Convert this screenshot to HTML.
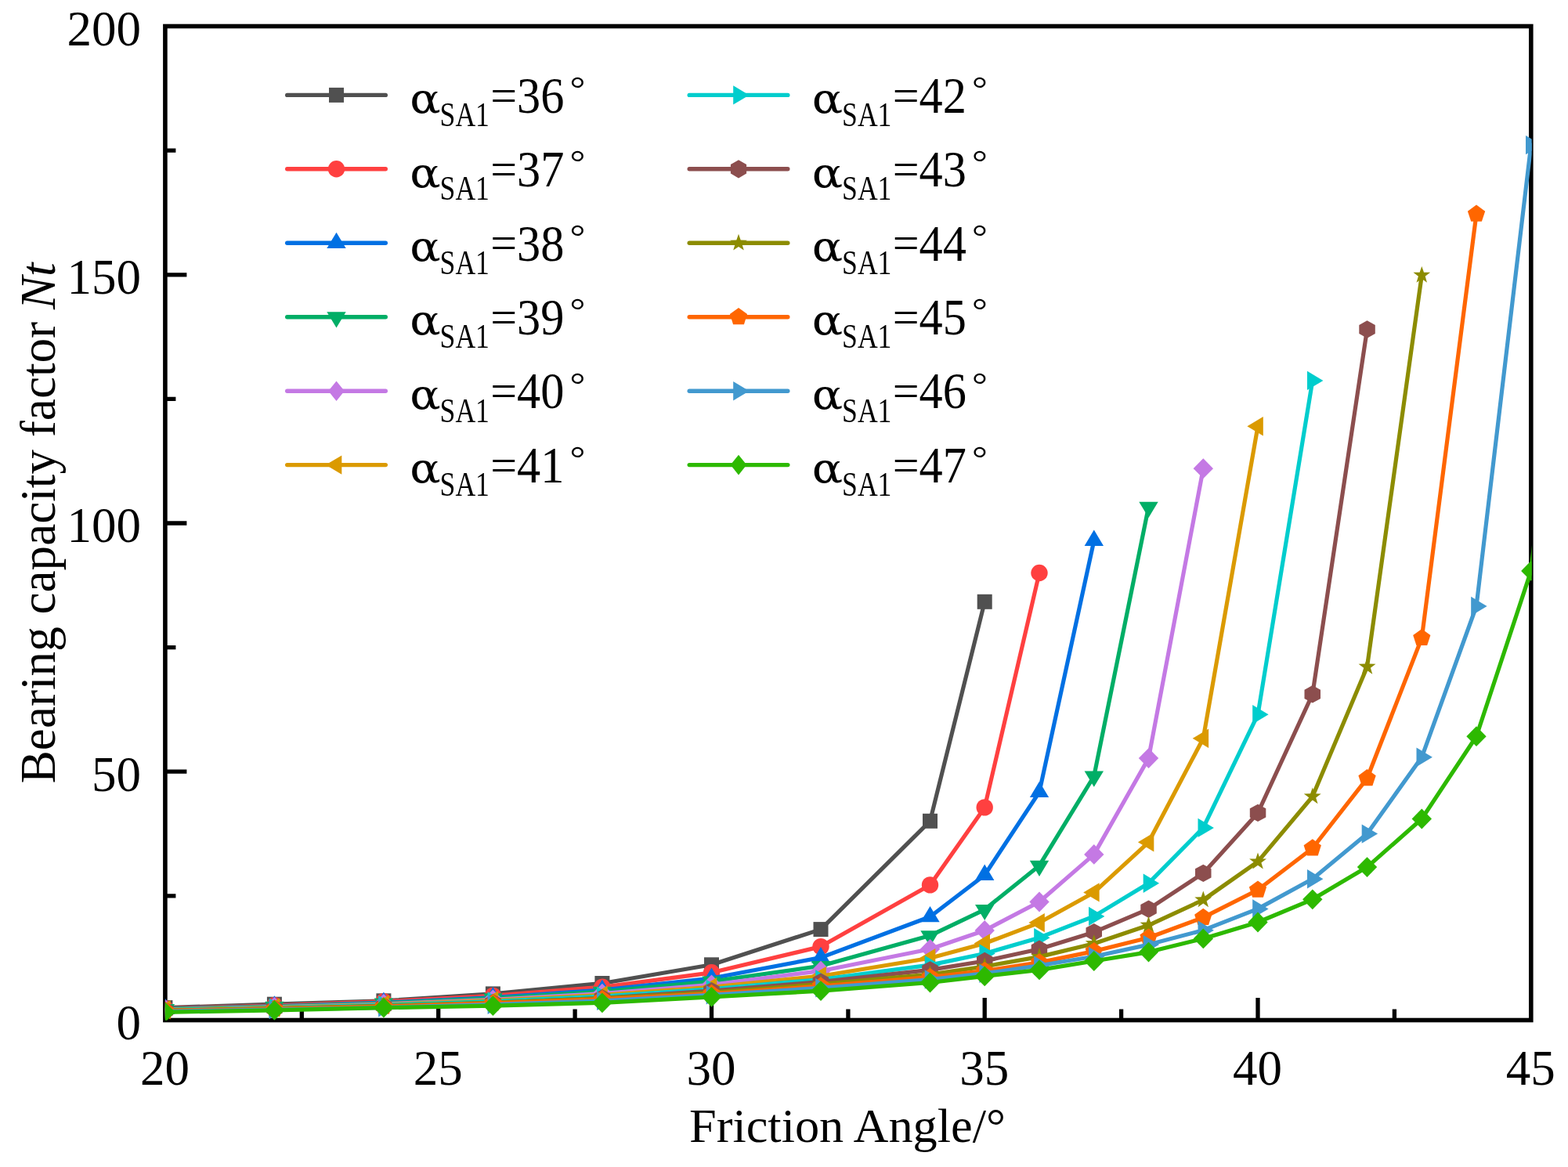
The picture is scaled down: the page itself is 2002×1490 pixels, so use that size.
<!DOCTYPE html>
<html><head><meta charset="utf-8"><title>Bearing capacity factor Nt vs Friction Angle</title>
<style>html,body{margin:0;padding:0;background:#fff;overflow:hidden;}svg{display:block;}
text{font-family:"Liberation Serif",serif;fill:#000;}</style></head>
<body><svg width="2002" height="1490" viewBox="0 0 2002 1490">
<rect width="2002" height="1490" fill="#fff"/>
<defs><clipPath id="pa"><rect x="210.9" y="33.5" width="1744.8" height="1269.3"/></clipPath></defs>

<path d="M210.9 1143.9H224.4 M210.9 985.2H238.4 M210.9 826.6H224.4 M210.9 668.0H238.4 M210.9 509.4H224.4 M210.9 350.8H238.4 M210.9 192.1H224.4 M385.3 1302.5V1288.5 M559.7 1302.5V1274.0 M734.1 1302.5V1288.5 M908.5 1302.5V1274.0 M1082.9 1302.5V1288.5 M1257.2 1302.5V1274.0 M1431.6 1302.5V1288.5 M1606.0 1302.5V1274.0 M1780.4 1302.5V1288.5" stroke="#000" stroke-width="5.3" fill="none"/>
<rect x="210.9" y="33.5" width="1743.9" height="1269.0" fill="none" stroke="#000" stroke-width="5.6"/>
<g clip-path="url(#pa)">
<polyline points="210.9,1286.6 350.4,1282.2 489.9,1277.8 629.4,1268.9 768.9,1255.5 908.5,1231.8 1048.0,1186.6 1187.5,1048.3 1257.2,768.3" fill="none" stroke="#505050" stroke-width="5.2" stroke-linejoin="round" stroke-linecap="round"/>
<rect x="201.4" y="1277.1" width="19" height="19" fill="#505050"/><rect x="340.9" y="1272.7" width="19" height="19" fill="#505050"/><rect x="480.4" y="1268.3" width="19" height="19" fill="#505050"/><rect x="619.9" y="1259.4" width="19" height="19" fill="#505050"/><rect x="759.4" y="1246.0" width="19" height="19" fill="#505050"/><rect x="899.0" y="1222.3" width="19" height="19" fill="#505050"/><rect x="1038.5" y="1177.1" width="19" height="19" fill="#505050"/><rect x="1178.0" y="1038.8" width="19" height="19" fill="#505050"/><rect x="1247.7" y="758.8" width="19" height="19" fill="#505050"/>
<polyline points="210.9,1287.6 350.4,1283.8 489.9,1278.7 629.4,1271.4 768.9,1260.3 908.5,1241.8 1048.0,1208.6 1187.5,1129.9 1257.2,1030.9 1327.0,731.5" fill="none" stroke="#ff4040" stroke-width="5.2" stroke-linejoin="round" stroke-linecap="round"/>
<circle cx="210.9" cy="1287.6" r="10.7" fill="#ff4040"/><circle cx="350.4" cy="1283.8" r="10.7" fill="#ff4040"/><circle cx="489.9" cy="1278.7" r="10.7" fill="#ff4040"/><circle cx="629.4" cy="1271.4" r="10.7" fill="#ff4040"/><circle cx="768.9" cy="1260.3" r="10.7" fill="#ff4040"/><circle cx="908.5" cy="1241.8" r="10.7" fill="#ff4040"/><circle cx="1048.0" cy="1208.6" r="10.7" fill="#ff4040"/><circle cx="1187.5" cy="1129.9" r="10.7" fill="#ff4040"/><circle cx="1257.2" cy="1030.9" r="10.7" fill="#ff4040"/><circle cx="1327.0" cy="731.5" r="10.7" fill="#ff4040"/>
<polyline points="210.9,1288.2 350.4,1284.8 489.9,1280.1 629.4,1273.6 768.9,1264.0 908.5,1249.0 1048.0,1222.6 1187.5,1170.5 1257.2,1117.2 1327.0,1011.3 1396.8,690.2" fill="none" stroke="#0070e3" stroke-width="5.2" stroke-linejoin="round" stroke-linecap="round"/>
<polygon points="210.9,1274.6 223.1,1295.0 198.7,1295.0" fill="#0070e3"/><polygon points="350.4,1271.2 362.6,1291.6 338.2,1291.6" fill="#0070e3"/><polygon points="489.9,1266.5 502.1,1286.9 477.7,1286.9" fill="#0070e3"/><polygon points="629.4,1260.0 641.6,1280.4 617.2,1280.4" fill="#0070e3"/><polygon points="768.9,1250.4 781.1,1270.8 756.7,1270.8" fill="#0070e3"/><polygon points="908.5,1235.4 920.7,1255.8 896.3,1255.8" fill="#0070e3"/><polygon points="1048.0,1209.0 1060.2,1229.4 1035.8,1229.4" fill="#0070e3"/><polygon points="1187.5,1156.9 1199.7,1177.3 1175.3,1177.3" fill="#0070e3"/><polygon points="1257.2,1103.6 1269.4,1124.0 1245.0,1124.0" fill="#0070e3"/><polygon points="1327.0,997.7 1339.2,1018.1 1314.8,1018.1" fill="#0070e3"/><polygon points="1396.8,676.6 1409.0,697.0 1384.6,697.0" fill="#0070e3"/>
<polyline points="210.9,1288.4 350.4,1285.1 489.9,1280.8 629.4,1274.7 768.9,1266.1 908.5,1253.0 1048.0,1233.3 1187.5,1194.6 1257.2,1161.3 1327.0,1105.2 1396.8,991.0 1466.5,647.1" fill="none" stroke="#00ae66" stroke-width="5.2" stroke-linejoin="round" stroke-linecap="round"/>
<polygon points="210.9,1302.2 223.1,1282.0 198.7,1282.0" fill="#00ae66"/><polygon points="350.4,1298.9 362.6,1278.7 338.2,1278.7" fill="#00ae66"/><polygon points="489.9,1294.6 502.1,1274.4 477.7,1274.4" fill="#00ae66"/><polygon points="629.4,1288.5 641.6,1268.3 617.2,1268.3" fill="#00ae66"/><polygon points="768.9,1279.9 781.1,1259.7 756.7,1259.7" fill="#00ae66"/><polygon points="908.5,1266.8 920.7,1246.6 896.3,1246.6" fill="#00ae66"/><polygon points="1048.0,1247.1 1060.2,1226.9 1035.8,1226.9" fill="#00ae66"/><polygon points="1187.5,1208.4 1199.7,1188.2 1175.3,1188.2" fill="#00ae66"/><polygon points="1257.2,1175.1 1269.4,1154.9 1245.0,1154.9" fill="#00ae66"/><polygon points="1327.0,1119.0 1339.2,1098.8 1314.8,1098.8" fill="#00ae66"/><polygon points="1396.8,1004.8 1409.0,984.6 1384.6,984.6" fill="#00ae66"/><polygon points="1466.5,660.9 1478.7,640.7 1454.3,640.7" fill="#00ae66"/>
<polyline points="210.9,1289.0 350.4,1285.9 489.9,1281.8 629.4,1276.3 768.9,1268.6 908.5,1257.3 1048.0,1239.7 1187.5,1211.8 1257.2,1188.0 1327.0,1151.5 1396.8,1090.9 1466.5,968.1 1536.3,598.2" fill="none" stroke="#c479e4" stroke-width="5.2" stroke-linejoin="round" stroke-linecap="round"/>
<polygon points="210.9,1276.1 223.6,1289.0 210.9,1301.9 198.2,1289.0" fill="#c479e4"/><polygon points="350.4,1273.0 363.1,1285.9 350.4,1298.8 337.7,1285.9" fill="#c479e4"/><polygon points="489.9,1268.9 502.6,1281.8 489.9,1294.7 477.2,1281.8" fill="#c479e4"/><polygon points="629.4,1263.4 642.1,1276.3 629.4,1289.2 616.7,1276.3" fill="#c479e4"/><polygon points="768.9,1255.7 781.6,1268.6 768.9,1281.5 756.2,1268.6" fill="#c479e4"/><polygon points="908.5,1244.4 921.2,1257.3 908.5,1270.2 895.8,1257.3" fill="#c479e4"/><polygon points="1048.0,1226.8 1060.7,1239.7 1048.0,1252.6 1035.3,1239.7" fill="#c479e4"/><polygon points="1187.5,1198.9 1200.2,1211.8 1187.5,1224.7 1174.8,1211.8" fill="#c479e4"/><polygon points="1257.2,1175.1 1269.9,1188.0 1257.2,1200.9 1244.5,1188.0" fill="#c479e4"/><polygon points="1327.0,1138.6 1339.7,1151.5 1327.0,1164.4 1314.3,1151.5" fill="#c479e4"/><polygon points="1396.8,1078.0 1409.5,1090.9 1396.8,1103.8 1384.1,1090.9" fill="#c479e4"/><polygon points="1466.5,955.2 1479.2,968.1 1466.5,981.0 1453.8,968.1" fill="#c479e4"/><polygon points="1536.3,585.3 1549.0,598.2 1536.3,611.1 1523.6,598.2" fill="#c479e4"/>
<polyline points="210.9,1289.3 350.4,1286.4 489.9,1282.6 629.4,1277.4 768.9,1270.4 908.5,1260.3 1048.0,1246.2 1187.5,1223.2 1257.2,1204.5 1327.0,1178.1 1396.8,1139.4 1466.5,1075.3 1536.3,942.7 1606.0,544.3" fill="none" stroke="#db9a00" stroke-width="5.2" stroke-linejoin="round" stroke-linecap="round"/>
<polygon points="197.3,1289.3 217.7,1277.1 217.7,1301.5" fill="#db9a00"/><polygon points="336.8,1286.4 357.2,1274.2 357.2,1298.6" fill="#db9a00"/><polygon points="476.3,1282.6 496.7,1270.4 496.7,1294.8" fill="#db9a00"/><polygon points="615.8,1277.4 636.2,1265.2 636.2,1289.6" fill="#db9a00"/><polygon points="755.3,1270.4 775.7,1258.2 775.7,1282.6" fill="#db9a00"/><polygon points="894.9,1260.3 915.3,1248.1 915.3,1272.5" fill="#db9a00"/><polygon points="1034.4,1246.2 1054.8,1234.0 1054.8,1258.4" fill="#db9a00"/><polygon points="1173.9,1223.2 1194.3,1211.0 1194.3,1235.4" fill="#db9a00"/><polygon points="1243.6,1204.5 1264.0,1192.3 1264.0,1216.7" fill="#db9a00"/><polygon points="1313.4,1178.1 1333.8,1165.9 1333.8,1190.3" fill="#db9a00"/><polygon points="1383.2,1139.4 1403.6,1127.2 1403.6,1151.6" fill="#db9a00"/><polygon points="1452.9,1075.3 1473.3,1063.1 1473.3,1087.5" fill="#db9a00"/><polygon points="1522.7,942.7 1543.1,930.5 1543.1,954.9" fill="#db9a00"/><polygon points="1592.4,544.3 1612.8,532.1 1612.8,556.5" fill="#db9a00"/>
<polyline points="210.9,1289.6 350.4,1286.8 489.9,1283.2 629.4,1278.5 768.9,1272.0 908.5,1262.9 1048.0,1250.5 1187.5,1232.1 1257.2,1217.5 1327.0,1197.2 1396.8,1169.9 1466.5,1127.7 1536.3,1056.9 1606.0,912.3 1675.8,485.9" fill="none" stroke="#00cdcd" stroke-width="5.2" stroke-linejoin="round" stroke-linecap="round"/>
<polygon points="224.5,1289.6 204.1,1277.4 204.1,1301.8" fill="#00cdcd"/><polygon points="364.0,1286.8 343.6,1274.6 343.6,1299.0" fill="#00cdcd"/><polygon points="503.5,1283.2 483.1,1271.0 483.1,1295.4" fill="#00cdcd"/><polygon points="643.0,1278.5 622.6,1266.3 622.6,1290.7" fill="#00cdcd"/><polygon points="782.5,1272.0 762.1,1259.8 762.1,1284.2" fill="#00cdcd"/><polygon points="922.1,1262.9 901.7,1250.7 901.7,1275.1" fill="#00cdcd"/><polygon points="1061.6,1250.5 1041.2,1238.3 1041.2,1262.7" fill="#00cdcd"/><polygon points="1201.1,1232.1 1180.7,1219.9 1180.7,1244.3" fill="#00cdcd"/><polygon points="1270.8,1217.5 1250.4,1205.3 1250.4,1229.7" fill="#00cdcd"/><polygon points="1340.6,1197.2 1320.2,1185.0 1320.2,1209.4" fill="#00cdcd"/><polygon points="1410.4,1169.9 1390.0,1157.7 1390.0,1182.1" fill="#00cdcd"/><polygon points="1480.1,1127.7 1459.7,1115.5 1459.7,1139.9" fill="#00cdcd"/><polygon points="1549.9,1056.9 1529.5,1044.7 1529.5,1069.1" fill="#00cdcd"/><polygon points="1619.6,912.3 1599.2,900.1 1599.2,924.5" fill="#00cdcd"/><polygon points="1689.4,485.9 1669.0,473.7 1669.0,498.1" fill="#00cdcd"/>
<polyline points="210.9,1290.4 350.4,1287.9 489.9,1284.6 629.4,1280.3 768.9,1274.3 908.5,1265.2 1048.0,1253.6 1187.5,1238.4 1257.2,1227.0 1327.0,1211.8 1396.8,1190.2 1466.5,1160.7 1536.3,1114.9 1606.0,1037.9 1675.8,886.3 1745.5,420.5" fill="none" stroke="#8c4e4e" stroke-width="5.2" stroke-linejoin="round" stroke-linecap="round"/>
<polygon points="210.9,1279.2 221.2,1284.8 221.2,1296.0 210.9,1301.6 200.7,1296.0 200.7,1284.8" fill="#8c4e4e"/><polygon points="350.4,1276.7 360.7,1282.3 360.7,1293.5 350.4,1299.1 340.2,1293.5 340.2,1282.3" fill="#8c4e4e"/><polygon points="489.9,1273.4 500.2,1279.0 500.2,1290.2 489.9,1295.8 479.7,1290.2 479.7,1279.0" fill="#8c4e4e"/><polygon points="629.4,1269.1 639.7,1274.7 639.7,1285.9 629.4,1291.5 619.2,1285.9 619.2,1274.7" fill="#8c4e4e"/><polygon points="768.9,1263.1 779.2,1268.7 779.2,1279.9 768.9,1285.5 758.7,1279.9 758.7,1268.7" fill="#8c4e4e"/><polygon points="908.5,1254.0 918.7,1259.6 918.7,1270.8 908.5,1276.4 898.2,1270.8 898.2,1259.6" fill="#8c4e4e"/><polygon points="1048.0,1242.4 1058.2,1248.0 1058.2,1259.2 1048.0,1264.8 1037.7,1259.2 1037.7,1248.0" fill="#8c4e4e"/><polygon points="1187.5,1227.2 1197.7,1232.8 1197.7,1244.0 1187.5,1249.6 1177.2,1244.0 1177.2,1232.8" fill="#8c4e4e"/><polygon points="1257.2,1215.8 1267.5,1221.4 1267.5,1232.6 1257.2,1238.2 1247.0,1232.6 1247.0,1221.4" fill="#8c4e4e"/><polygon points="1327.0,1200.6 1337.2,1206.2 1337.2,1217.4 1327.0,1223.0 1316.7,1217.4 1316.7,1206.2" fill="#8c4e4e"/><polygon points="1396.8,1179.0 1407.0,1184.6 1407.0,1195.8 1396.8,1201.4 1386.5,1195.8 1386.5,1184.6" fill="#8c4e4e"/><polygon points="1466.5,1149.5 1476.8,1155.1 1476.8,1166.3 1466.5,1171.9 1456.3,1166.3 1456.3,1155.1" fill="#8c4e4e"/><polygon points="1536.3,1103.7 1546.5,1109.3 1546.5,1120.5 1536.3,1126.1 1526.0,1120.5 1526.0,1109.3" fill="#8c4e4e"/><polygon points="1606.0,1026.7 1616.3,1032.3 1616.3,1043.5 1606.0,1049.1 1595.8,1043.5 1595.8,1032.3" fill="#8c4e4e"/><polygon points="1675.8,875.1 1686.0,880.7 1686.0,891.9 1675.8,897.5 1665.5,891.9 1665.5,880.7" fill="#8c4e4e"/><polygon points="1745.5,409.3 1755.8,414.9 1755.8,426.1 1745.5,431.7 1735.3,426.1 1735.3,414.9" fill="#8c4e4e"/>
<polyline points="210.9,1290.2 350.4,1287.6 489.9,1284.4 629.4,1280.2 768.9,1274.6 908.5,1267.0 1048.0,1256.5 1187.5,1244.1 1257.2,1234.0 1327.0,1221.6 1396.8,1204.8 1466.5,1181.3 1536.3,1149.0 1606.0,1100.1 1675.8,1017.0 1745.5,851.4 1815.3,351.4" fill="none" stroke="#8c8c00" stroke-width="5.2" stroke-linejoin="round" stroke-linecap="round"/>
<polygon points="210.9,1278.7 208.2,1286.5 200.0,1286.6 206.5,1291.6 204.1,1299.5 210.9,1294.8 217.7,1299.5 215.3,1291.6 221.8,1286.6 213.6,1286.5" fill="#8c8c00"/><polygon points="350.4,1276.1 347.7,1283.9 339.5,1284.1 346.0,1289.1 343.7,1296.9 350.4,1292.2 357.2,1296.9 354.8,1289.1 361.3,1284.1 353.1,1283.9" fill="#8c8c00"/><polygon points="489.9,1272.9 487.2,1280.7 479.0,1280.8 485.5,1285.8 483.2,1293.7 489.9,1289.0 496.7,1293.7 494.3,1285.8 500.9,1280.8 492.6,1280.7" fill="#8c8c00"/><polygon points="629.4,1268.7 626.7,1276.4 618.5,1276.6 625.1,1281.6 622.7,1289.5 629.4,1284.8 636.2,1289.5 633.8,1281.6 640.4,1276.6 632.1,1276.4" fill="#8c8c00"/><polygon points="768.9,1263.1 766.2,1270.9 758.0,1271.0 764.6,1276.0 762.2,1283.9 768.9,1279.2 775.7,1283.9 773.3,1276.0 779.9,1271.0 771.7,1270.9" fill="#8c8c00"/><polygon points="908.5,1255.5 905.8,1263.2 897.5,1263.4 904.1,1268.4 901.7,1276.3 908.5,1271.6 915.2,1276.3 912.8,1268.4 919.4,1263.4 911.2,1263.2" fill="#8c8c00"/><polygon points="1048.0,1245.0 1045.3,1252.8 1037.0,1252.9 1043.6,1257.9 1041.2,1265.8 1048.0,1261.1 1054.7,1265.8 1052.3,1257.9 1058.9,1252.9 1050.7,1252.8" fill="#8c8c00"/><polygon points="1187.5,1232.6 1184.8,1240.4 1176.5,1240.6 1183.1,1245.5 1180.7,1253.4 1187.5,1248.7 1194.2,1253.4 1191.9,1245.5 1198.4,1240.6 1190.2,1240.4" fill="#8c8c00"/><polygon points="1257.2,1222.5 1254.5,1230.3 1246.3,1230.4 1252.9,1235.4 1250.5,1243.3 1257.2,1238.6 1264.0,1243.3 1261.6,1235.4 1268.2,1230.4 1259.9,1230.3" fill="#8c8c00"/><polygon points="1327.0,1210.1 1324.3,1217.9 1316.1,1218.0 1322.6,1223.0 1320.2,1230.9 1327.0,1226.2 1333.8,1230.9 1331.4,1223.0 1337.9,1218.0 1329.7,1217.9" fill="#8c8c00"/><polygon points="1396.8,1193.3 1394.0,1201.1 1385.8,1201.2 1392.4,1206.2 1390.0,1214.1 1396.8,1209.4 1403.5,1214.1 1401.1,1206.2 1407.7,1201.2 1399.5,1201.1" fill="#8c8c00"/><polygon points="1466.5,1169.8 1463.8,1177.6 1455.6,1177.8 1462.1,1182.7 1459.7,1190.6 1466.5,1185.9 1473.3,1190.6 1470.9,1182.7 1477.4,1177.8 1469.2,1177.6" fill="#8c8c00"/><polygon points="1536.3,1137.5 1533.6,1145.2 1525.3,1145.4 1531.9,1150.4 1529.5,1158.3 1536.3,1153.6 1543.0,1158.3 1540.6,1150.4 1547.2,1145.4 1539.0,1145.2" fill="#8c8c00"/><polygon points="1606.0,1088.6 1603.3,1096.4 1595.1,1096.5 1601.6,1101.5 1599.3,1109.4 1606.0,1104.7 1612.8,1109.4 1610.4,1101.5 1617.0,1096.5 1608.7,1096.4" fill="#8c8c00"/><polygon points="1675.8,1005.5 1673.1,1013.3 1664.8,1013.4 1671.4,1018.4 1669.0,1026.3 1675.8,1021.6 1682.5,1026.3 1680.2,1018.4 1686.7,1013.4 1678.5,1013.3" fill="#8c8c00"/><polygon points="1745.5,839.9 1742.8,847.6 1734.6,847.8 1741.2,852.8 1738.8,860.7 1745.5,856.0 1752.3,860.7 1749.9,852.8 1756.5,847.8 1748.2,847.6" fill="#8c8c00"/><polygon points="1815.3,339.9 1812.6,347.7 1804.4,347.8 1810.9,352.8 1808.5,360.7 1815.3,356.0 1822.0,360.7 1819.7,352.8 1826.2,347.8 1818.0,347.7" fill="#8c8c00"/>
<polyline points="210.9,1290.5 350.4,1288.1 489.9,1285.0 629.4,1281.0 768.9,1275.8 908.5,1268.8 1048.0,1259.2 1187.5,1247.6 1257.2,1239.7 1327.0,1228.9 1396.8,1214.6 1466.5,1197.2 1536.3,1171.4 1606.0,1136.3 1675.8,1083.0 1745.5,993.8 1815.3,814.6 1885.0,273.3" fill="none" stroke="#ff6600" stroke-width="5.2" stroke-linejoin="round" stroke-linecap="round"/>
<polygon points="210.9,1278.8 199.8,1286.9 204.0,1300.0 217.8,1300.0 222.0,1286.9" fill="#ff6600"/><polygon points="350.4,1276.4 339.3,1284.5 343.5,1297.5 357.3,1297.5 361.5,1284.5" fill="#ff6600"/><polygon points="489.9,1273.3 478.8,1281.4 483.0,1294.5 496.8,1294.5 501.1,1281.4" fill="#ff6600"/><polygon points="629.4,1269.3 618.3,1277.4 622.6,1290.5 636.3,1290.5 640.6,1277.4" fill="#ff6600"/><polygon points="768.9,1264.1 757.8,1272.2 762.1,1285.3 775.8,1285.3 780.1,1272.2" fill="#ff6600"/><polygon points="908.5,1257.1 897.3,1265.2 901.6,1278.3 915.3,1278.3 919.6,1265.2" fill="#ff6600"/><polygon points="1048.0,1247.5 1036.8,1255.6 1041.1,1268.7 1054.8,1268.7 1059.1,1255.6" fill="#ff6600"/><polygon points="1187.5,1235.9 1176.4,1244.0 1180.6,1257.1 1194.4,1257.1 1198.6,1244.0" fill="#ff6600"/><polygon points="1257.2,1228.0 1246.1,1236.1 1250.4,1249.1 1264.1,1249.1 1268.4,1236.1" fill="#ff6600"/><polygon points="1327.0,1217.2 1315.9,1225.3 1320.1,1238.4 1333.9,1238.4 1338.1,1225.3" fill="#ff6600"/><polygon points="1396.8,1202.9 1385.6,1211.0 1389.9,1224.1 1403.6,1224.1 1407.9,1211.0" fill="#ff6600"/><polygon points="1466.5,1185.5 1455.4,1193.6 1459.6,1206.6 1473.4,1206.6 1477.6,1193.6" fill="#ff6600"/><polygon points="1536.3,1159.7 1525.1,1167.8 1529.4,1180.9 1543.1,1180.9 1547.4,1167.8" fill="#ff6600"/><polygon points="1606.0,1124.6 1594.9,1132.6 1599.1,1145.7 1612.9,1145.7 1617.1,1132.6" fill="#ff6600"/><polygon points="1675.8,1071.3 1664.6,1079.3 1668.9,1092.4 1682.7,1092.4 1686.9,1079.3" fill="#ff6600"/><polygon points="1745.5,982.1 1734.4,990.2 1738.7,1003.3 1752.4,1003.3 1756.7,990.2" fill="#ff6600"/><polygon points="1815.3,802.9 1804.2,811.0 1808.4,824.0 1822.2,824.0 1826.4,811.0" fill="#ff6600"/><polygon points="1885.0,261.6 1873.9,269.7 1878.2,282.8 1891.9,282.8 1896.2,269.7" fill="#ff6600"/>
<polyline points="210.9,1291.3 350.4,1289.1 489.9,1286.3 629.4,1282.7 768.9,1277.9 908.5,1270.3 1048.0,1261.3 1187.5,1250.5 1257.2,1242.9 1327.0,1232.7 1396.8,1221.3 1466.5,1206.1 1536.3,1187.7 1606.0,1160.4 1675.8,1122.3 1745.5,1064.6 1815.3,966.8 1885.0,774.0 1954.8,185.1" fill="none" stroke="#4299cf" stroke-width="5.2" stroke-linejoin="round" stroke-linecap="round"/>
<polygon points="224.5,1291.3 204.1,1279.1 204.1,1303.5" fill="#4299cf"/><polygon points="364.0,1289.1 343.6,1276.9 343.6,1301.3" fill="#4299cf"/><polygon points="503.5,1286.3 483.1,1274.1 483.1,1298.5" fill="#4299cf"/><polygon points="643.0,1282.7 622.6,1270.5 622.6,1294.9" fill="#4299cf"/><polygon points="782.5,1277.9 762.1,1265.7 762.1,1290.1" fill="#4299cf"/><polygon points="922.1,1270.3 901.7,1258.1 901.7,1282.5" fill="#4299cf"/><polygon points="1061.6,1261.3 1041.2,1249.1 1041.2,1273.5" fill="#4299cf"/><polygon points="1201.1,1250.5 1180.7,1238.3 1180.7,1262.7" fill="#4299cf"/><polygon points="1270.8,1242.9 1250.4,1230.7 1250.4,1255.1" fill="#4299cf"/><polygon points="1340.6,1232.7 1320.2,1220.5 1320.2,1244.9" fill="#4299cf"/><polygon points="1410.4,1221.3 1390.0,1209.1 1390.0,1233.5" fill="#4299cf"/><polygon points="1480.1,1206.1 1459.7,1193.9 1459.7,1218.3" fill="#4299cf"/><polygon points="1549.9,1187.7 1529.5,1175.5 1529.5,1199.9" fill="#4299cf"/><polygon points="1619.6,1160.4 1599.2,1148.2 1599.2,1172.6" fill="#4299cf"/><polygon points="1689.4,1122.3 1669.0,1110.1 1669.0,1134.5" fill="#4299cf"/><polygon points="1759.1,1064.6 1738.7,1052.4 1738.7,1076.8" fill="#4299cf"/><polygon points="1828.9,966.8 1808.5,954.6 1808.5,979.0" fill="#4299cf"/><polygon points="1898.6,774.0 1878.2,761.8 1878.2,786.2" fill="#4299cf"/><polygon points="1968.4,185.1 1948.0,172.9 1948.0,197.3" fill="#4299cf"/>
<polyline points="210.9,1292.3 350.4,1289.8 489.9,1286.6 629.4,1284.1 768.9,1280.3 908.5,1272.9 1048.0,1265.1 1187.5,1254.5 1257.2,1246.4 1327.0,1238.4 1396.8,1227.0 1466.5,1215.6 1536.3,1198.4 1606.0,1177.5 1675.8,1148.3 1745.5,1107.1 1815.3,1045.5 1885.0,940.2 1954.8,728.9 2024.6,122.3" fill="none" stroke="#2db900" stroke-width="5.2" stroke-linejoin="round" stroke-linecap="round"/>
<polygon points="210.9,1279.4 223.6,1292.3 210.9,1305.2 198.2,1292.3" fill="#2db900"/><polygon points="350.4,1276.9 363.1,1289.8 350.4,1302.7 337.7,1289.8" fill="#2db900"/><polygon points="489.9,1273.7 502.6,1286.6 489.9,1299.5 477.2,1286.6" fill="#2db900"/><polygon points="629.4,1271.2 642.1,1284.1 629.4,1297.0 616.7,1284.1" fill="#2db900"/><polygon points="768.9,1267.4 781.6,1280.3 768.9,1293.2 756.2,1280.3" fill="#2db900"/><polygon points="908.5,1260.0 921.2,1272.9 908.5,1285.8 895.8,1272.9" fill="#2db900"/><polygon points="1048.0,1252.2 1060.7,1265.1 1048.0,1278.0 1035.3,1265.1" fill="#2db900"/><polygon points="1187.5,1241.6 1200.2,1254.5 1187.5,1267.4 1174.8,1254.5" fill="#2db900"/><polygon points="1257.2,1233.5 1269.9,1246.4 1257.2,1259.3 1244.5,1246.4" fill="#2db900"/><polygon points="1327.0,1225.5 1339.7,1238.4 1327.0,1251.3 1314.3,1238.4" fill="#2db900"/><polygon points="1396.8,1214.1 1409.5,1227.0 1396.8,1239.9 1384.1,1227.0" fill="#2db900"/><polygon points="1466.5,1202.7 1479.2,1215.6 1466.5,1228.5 1453.8,1215.6" fill="#2db900"/><polygon points="1536.3,1185.5 1549.0,1198.4 1536.3,1211.3 1523.6,1198.4" fill="#2db900"/><polygon points="1606.0,1164.6 1618.7,1177.5 1606.0,1190.4 1593.3,1177.5" fill="#2db900"/><polygon points="1675.8,1135.4 1688.5,1148.3 1675.8,1161.2 1663.1,1148.3" fill="#2db900"/><polygon points="1745.5,1094.2 1758.2,1107.1 1745.5,1120.0 1732.8,1107.1" fill="#2db900"/><polygon points="1815.3,1032.6 1828.0,1045.5 1815.3,1058.4 1802.6,1045.5" fill="#2db900"/><polygon points="1885.0,927.3 1897.7,940.2 1885.0,953.1 1872.3,940.2" fill="#2db900"/><polygon points="1954.8,716.0 1967.5,728.9 1954.8,741.8 1942.1,728.9" fill="#2db900"/><polygon points="2024.6,109.4 2037.3,122.3 2024.6,135.2 2011.9,122.3" fill="#2db900"/>
</g>
<text x="180.0" y="1326.8" font-size="63" text-anchor="end">0</text>
<text x="180.0" y="1009.5" font-size="63" text-anchor="end">50</text>
<text x="180.0" y="692.3" font-size="63" text-anchor="end">100</text>
<text x="180.0" y="375.1" font-size="63" text-anchor="end">150</text>
<text x="180.0" y="57.8" font-size="63" text-anchor="end">200</text>
<text x="210.4" y="1385.2" font-size="63" text-anchor="middle">20</text>
<text x="559.2" y="1385.2" font-size="63" text-anchor="middle">25</text>
<text x="908.0" y="1385.2" font-size="63" text-anchor="middle">30</text>
<text x="1256.7" y="1385.2" font-size="63" text-anchor="middle">35</text>
<text x="1605.5" y="1385.2" font-size="63" text-anchor="middle">40</text>
<text x="1954.3" y="1385.2" font-size="63" text-anchor="middle">45</text>
<text x="880.0" y="1458.1" font-size="62.3">Friction Angle/°</text>
<text transform="translate(70.2 1000.3) rotate(-90)" font-size="63.2">Bearing capacity factor <tspan font-style="italic">Nt</tspan></text>
<line x1="366.7" y1="121.4" x2="492.3" y2="121.4" stroke="#505050" stroke-width="5.4" stroke-linecap="round"/>
<rect x="420.0" y="111.9" width="19" height="19" fill="#505050"/>
<text transform="translate(523.2 144.1) scale(1.1 1)" font-size="53" style="font-family:'DejaVu Serif',serif">α</text>
<text transform="translate(561.6 161.0) scale(0.8 1)" font-size="44.5">SA1</text>
<text x="626.3" y="141.5" font-size="60">=</text>
<text transform="translate(660.0 143.6) scale(0.935 1)" font-size="64.5">36</text>
<text transform="translate(727.4 127.7) scale(1.1 1)" font-size="45">°</text>
<line x1="366.7" y1="215.8" x2="492.3" y2="215.8" stroke="#ff4040" stroke-width="5.4" stroke-linecap="round"/>
<circle cx="429.5" cy="215.8" r="10.7" fill="#ff4040"/>
<text transform="translate(523.2 238.5) scale(1.1 1)" font-size="53" style="font-family:'DejaVu Serif',serif">α</text>
<text transform="translate(561.6 255.4) scale(0.8 1)" font-size="44.5">SA1</text>
<text x="626.3" y="235.9" font-size="60">=</text>
<text transform="translate(660.0 238.0) scale(0.935 1)" font-size="64.5">37</text>
<text transform="translate(727.4 222.1) scale(1.1 1)" font-size="45">°</text>
<line x1="366.7" y1="310.3" x2="492.3" y2="310.3" stroke="#0070e3" stroke-width="5.4" stroke-linecap="round"/>
<polygon points="429.5,296.7 441.7,317.1 417.3,317.1" fill="#0070e3"/>
<text transform="translate(523.2 333.0) scale(1.1 1)" font-size="53" style="font-family:'DejaVu Serif',serif">α</text>
<text transform="translate(561.6 349.9) scale(0.8 1)" font-size="44.5">SA1</text>
<text x="626.3" y="330.4" font-size="60">=</text>
<text transform="translate(660.0 332.5) scale(0.935 1)" font-size="64.5">38</text>
<text transform="translate(727.4 316.6) scale(1.1 1)" font-size="45">°</text>
<line x1="366.7" y1="404.7" x2="492.3" y2="404.7" stroke="#00ae66" stroke-width="5.4" stroke-linecap="round"/>
<polygon points="429.5,418.5 441.7,398.3 417.3,398.3" fill="#00ae66"/>
<text transform="translate(523.2 427.4) scale(1.1 1)" font-size="53" style="font-family:'DejaVu Serif',serif">α</text>
<text transform="translate(561.6 444.3) scale(0.8 1)" font-size="44.5">SA1</text>
<text x="626.3" y="424.8" font-size="60">=</text>
<text transform="translate(660.0 426.9) scale(0.935 1)" font-size="64.5">39</text>
<text transform="translate(727.4 411.0) scale(1.1 1)" font-size="45">°</text>
<line x1="366.7" y1="499.2" x2="492.3" y2="499.2" stroke="#c479e4" stroke-width="5.4" stroke-linecap="round"/>
<polygon points="429.5,486.4 439.8,499.2 429.5,512.0 419.2,499.2" fill="#c479e4"/>
<text transform="translate(523.2 521.9) scale(1.1 1)" font-size="53" style="font-family:'DejaVu Serif',serif">α</text>
<text transform="translate(561.6 538.8) scale(0.8 1)" font-size="44.5">SA1</text>
<text x="626.3" y="519.3" font-size="60">=</text>
<text transform="translate(660.0 521.4) scale(0.935 1)" font-size="64.5">40</text>
<text transform="translate(727.4 505.5) scale(1.1 1)" font-size="45">°</text>
<line x1="366.7" y1="593.6" x2="492.3" y2="593.6" stroke="#db9a00" stroke-width="5.4" stroke-linecap="round"/>
<polygon points="415.9,593.6 436.3,581.4 436.3,605.8" fill="#db9a00"/>
<text transform="translate(523.2 616.3) scale(1.1 1)" font-size="53" style="font-family:'DejaVu Serif',serif">α</text>
<text transform="translate(561.6 633.2) scale(0.8 1)" font-size="44.5">SA1</text>
<text x="626.3" y="613.7" font-size="60">=</text>
<text transform="translate(660.0 615.8) scale(0.935 1)" font-size="64.5">41</text>
<text transform="translate(727.4 599.9) scale(1.1 1)" font-size="45">°</text>
<line x1="880.2" y1="121.4" x2="1005.8" y2="121.4" stroke="#00cdcd" stroke-width="5.4" stroke-linecap="round"/>
<polygon points="956.6,121.4 936.2,109.2 936.2,133.6" fill="#00cdcd"/>
<text transform="translate(1036.7 144.1) scale(1.1 1)" font-size="53" style="font-family:'DejaVu Serif',serif">α</text>
<text transform="translate(1075.1 161.0) scale(0.8 1)" font-size="44.5">SA1</text>
<text x="1139.8" y="141.5" font-size="60">=</text>
<text transform="translate(1173.5 143.6) scale(0.935 1)" font-size="64.5">42</text>
<text transform="translate(1240.9 127.7) scale(1.1 1)" font-size="45">°</text>
<line x1="880.2" y1="215.8" x2="1005.8" y2="215.8" stroke="#8c4e4e" stroke-width="5.4" stroke-linecap="round"/>
<polygon points="943.0,204.2 953.1,210.0 953.1,221.6 943.0,227.4 932.9,221.6 932.9,210.0" fill="#8c4e4e"/>
<text transform="translate(1036.7 238.5) scale(1.1 1)" font-size="53" style="font-family:'DejaVu Serif',serif">α</text>
<text transform="translate(1075.1 255.4) scale(0.8 1)" font-size="44.5">SA1</text>
<text x="1139.8" y="235.9" font-size="60">=</text>
<text transform="translate(1173.5 238.0) scale(0.935 1)" font-size="64.5">43</text>
<text transform="translate(1240.9 222.1) scale(1.1 1)" font-size="45">°</text>
<line x1="880.2" y1="310.3" x2="1005.8" y2="310.3" stroke="#8c8c00" stroke-width="5.4" stroke-linecap="round"/>
<polygon points="943.0,298.8 940.3,306.6 932.1,306.7 938.6,311.7 936.2,319.6 943.0,314.9 949.8,319.6 947.4,311.7 953.9,306.7 945.7,306.6" fill="#8c8c00"/>
<text transform="translate(1036.7 333.0) scale(1.1 1)" font-size="53" style="font-family:'DejaVu Serif',serif">α</text>
<text transform="translate(1075.1 349.9) scale(0.8 1)" font-size="44.5">SA1</text>
<text x="1139.8" y="330.4" font-size="60">=</text>
<text transform="translate(1173.5 332.5) scale(0.935 1)" font-size="64.5">44</text>
<text transform="translate(1240.9 316.6) scale(1.1 1)" font-size="45">°</text>
<line x1="880.2" y1="404.7" x2="1005.8" y2="404.7" stroke="#ff6600" stroke-width="5.4" stroke-linecap="round"/>
<polygon points="943.0,393.0 931.9,401.1 936.1,414.2 949.9,414.2 954.1,401.1" fill="#ff6600"/>
<text transform="translate(1036.7 427.4) scale(1.1 1)" font-size="53" style="font-family:'DejaVu Serif',serif">α</text>
<text transform="translate(1075.1 444.3) scale(0.8 1)" font-size="44.5">SA1</text>
<text x="1139.8" y="424.8" font-size="60">=</text>
<text transform="translate(1173.5 426.9) scale(0.935 1)" font-size="64.5">45</text>
<text transform="translate(1240.9 411.0) scale(1.1 1)" font-size="45">°</text>
<line x1="880.2" y1="499.2" x2="1005.8" y2="499.2" stroke="#4299cf" stroke-width="5.4" stroke-linecap="round"/>
<polygon points="956.6,499.2 936.2,487.0 936.2,511.4" fill="#4299cf"/>
<text transform="translate(1036.7 521.9) scale(1.1 1)" font-size="53" style="font-family:'DejaVu Serif',serif">α</text>
<text transform="translate(1075.1 538.8) scale(0.8 1)" font-size="44.5">SA1</text>
<text x="1139.8" y="519.3" font-size="60">=</text>
<text transform="translate(1173.5 521.4) scale(0.935 1)" font-size="64.5">46</text>
<text transform="translate(1240.9 505.5) scale(1.1 1)" font-size="45">°</text>
<line x1="880.2" y1="593.6" x2="1005.8" y2="593.6" stroke="#2db900" stroke-width="5.4" stroke-linecap="round"/>
<polygon points="943.0,580.8 953.3,593.6 943.0,606.4 932.7,593.6" fill="#2db900"/>
<text transform="translate(1036.7 616.3) scale(1.1 1)" font-size="53" style="font-family:'DejaVu Serif',serif">α</text>
<text transform="translate(1075.1 633.2) scale(0.8 1)" font-size="44.5">SA1</text>
<text x="1139.8" y="613.7" font-size="60">=</text>
<text transform="translate(1173.5 615.8) scale(0.935 1)" font-size="64.5">47</text>
<text transform="translate(1240.9 599.9) scale(1.1 1)" font-size="45">°</text>
</svg></body></html>
